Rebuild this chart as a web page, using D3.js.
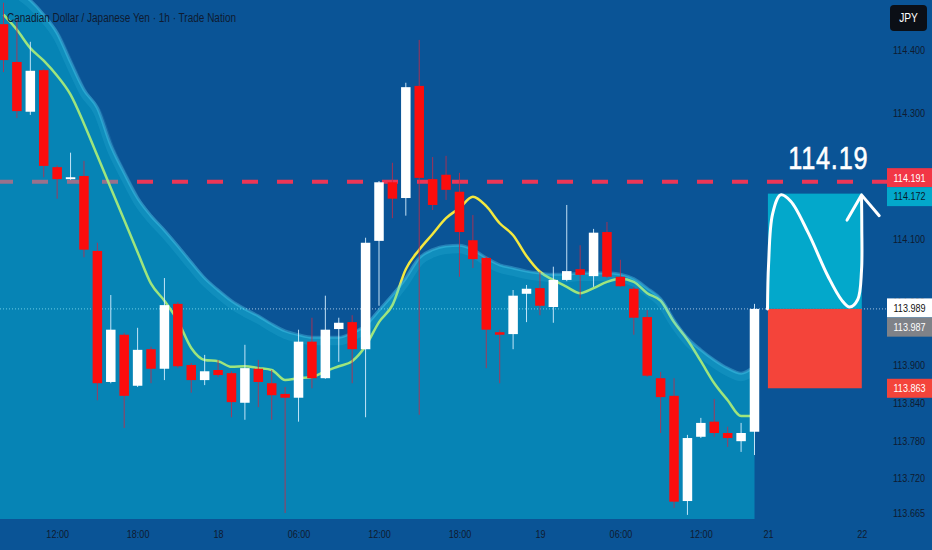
<!DOCTYPE html>
<html>
<head>
<meta charset="utf-8">
<script src="https://cdn.jsdelivr.net/npm/d3@7"></script>
<style>
    html, body { margin: 0; padding: 0; background: #0a5496; }
    svg { display: block; }
</style>
</head>
<body>
<div id="chart"></div>
<script>
// CAD/JPY 1h candles
var opens = [114.441, 114.381, 114.302, 114.368, 114.214, 114.195, 114.200, 114.081, 113.873, 113.948,
    113.867, 113.925, 113.894, 113.997, 113.900, 113.876, 113.892, 113.887, 113.840, 113.894,
    113.871, 113.854, 113.848, 113.937, 113.879, 113.957, 113.968, 113.925, 114.097, 114.190,
    114.165, 114.343, 114.195, 114.202, 114.175, 114.098, 114.070, 113.952, 113.949, 114.013,
    114.022, 113.992, 114.035, 114.052, 114.041, 114.111, 114.040, 114.021, 113.976, 113.879,
    113.851, 113.684, 113.786, 113.810, 113.792, 113.779, 113.794];
var highs = [114.475, 114.448, 114.413, 114.370, 114.217, 114.237, 114.224, 114.094, 114.011, 113.951,
    113.959, 113.929, 114.038, 114.000, 113.903, 113.916, 113.908, 113.890, 113.932, 113.908,
    113.892, 113.865, 113.956, 113.975, 114.010, 113.975, 113.979, 114.102, 114.192, 114.221,
    114.348, 114.416, 114.230, 114.232, 114.205, 114.138, 114.073, 113.956, 114.019, 114.027,
    114.048, 114.056, 114.154, 114.090, 114.116, 114.127, 114.067, 114.024, 113.987, 113.889,
    113.879, 113.789, 113.816, 113.846, 113.802, 113.808, 113.997];
var lows = [114.365, 114.292, 114.297, 114.198, 114.164, 114.194, 114.071, 113.844, 113.871, 113.800,
    113.865, 113.871, 113.876, 113.895, 113.856, 113.868, 113.881, 113.817, 113.813, 113.833,
    113.813, 113.665, 113.810, 113.863, 113.878, 113.905, 113.871, 113.817, 113.994, 114.133,
    114.137, 113.821, 114.146, 114.162, 114.040, 114.054, 113.895, 113.871, 113.925, 113.968,
    113.979, 113.967, 114.033, 114.006, 114.024, 114.038, 114.024, 113.948, 113.881, 113.792,
    113.673, 113.662, 113.784, 113.786, 113.770, 113.762, 113.757];
var closes = [114.384, 114.303, 114.367, 114.216, 114.195, 114.198, 114.083, 113.871, 113.956, 113.851,
    113.924, 113.894, 113.995, 113.898, 113.876, 113.890, 113.884, 113.841, 113.895, 113.873,
    113.852, 113.848, 113.937, 113.879, 113.956, 113.967, 113.925, 114.094, 114.190, 114.164,
    114.341, 114.197, 114.154, 114.178, 114.111, 114.068, 113.956, 113.948, 114.010, 114.021,
    113.994, 114.035, 114.049, 114.043, 114.110, 114.040, 114.025, 113.975, 113.883, 113.849,
    113.683, 113.784, 113.808, 113.792, 113.784, 113.792, 113.989];

// moving average line
var emaValues = [114.456, 114.432, 114.403, 114.383, 114.359, 114.329, 114.283, 114.232, 114.181, 114.130,
    114.079, 114.029, 114.002, 113.970, 113.927, 113.908, 113.906, 113.897, 113.898, 113.895,
    113.892, 113.876, 113.879, 113.881, 113.890, 113.898, 113.906, 113.930, 113.968, 113.995,
    114.052, 114.083, 114.108, 114.133, 114.149, 114.167, 114.152, 114.125, 114.106, 114.073,
    114.048, 114.035, 114.024, 114.014, 114.022, 114.032, 114.037, 114.032, 114.014, 114.002,
    113.968, 113.940, 113.906, 113.871, 113.844, 113.819, 113.819];

// upper edge of the shaded band
var bandValues = [114.511, 114.495, 114.479, 114.456, 114.427, 114.381, 114.337, 114.308, 114.249, 114.205,
    114.165, 114.137, 114.114, 114.089, 114.063, 114.038, 114.019, 114.002, 113.989, 113.978,
    113.965, 113.954, 113.948, 113.944, 113.944, 113.944, 113.951, 113.963, 113.987, 114.011,
    114.038, 114.070, 114.083, 114.089, 114.090, 114.083, 114.070, 114.059, 114.054, 114.049,
    114.046, 114.044, 114.044, 114.046, 114.046, 114.046, 114.044, 114.037, 114.022, 114.005,
    113.971, 113.943, 113.924, 113.908, 113.895, 113.887, 113.898];

// axes
var xTickIndex = [4, 10, 16, 22, 28, 34, 40, 46, 52, 57, 64];
var xTickLabels = ["12:00", "18:00", "18", "06:00", "12:00", "18:00", "19", "06:00", "12:00", "21", "22"];
var yTicks = [114.400, 114.300, 114.200, 114.100, 114.000, 113.900, 113.840, 113.780, 113.720, 113.665];

// price levels
var alertLevel = 114.191;
var lastPrice = 113.989;
var targetPrice = 114.172;
var entryPrice = 113.989;
var stopPrice = 113.863;
var labelValues = [114.191, 114.172, 113.989, 113.987, 113.863];

// projection drawn in the position box: [candle index, price]
var projectionPath = [[56.97, 113.989], [57.05, 114.06], [57.35, 114.14], [57.95, 114.170], [58.7, 114.160],
    [60.0, 114.110], [61.5, 114.040], [62.5, 114.003], [63.1, 113.992], [63.7, 114.004],
    [63.98, 114.05], [64.0, 114.12], [63.98, 114.168]];
var arrowHead = [[62.9, 114.130], [63.98, 114.170], [65.3, 114.137]];
var boxStart = 57, boxEnd = 64;

// dimensions
var svgWidth = 932;
var svgHeight = 550;
var plotBottom = 519;
var axisX = 888;
var font = "'Liberation Sans', Arial, sans-serif";
var textDark = "#0f1b30";

// squeeze text to look like a narrow face
function narrow(sel, k) {
    sel.each(function() {
        var w = this.getComputedTextLength();
        d3.select(this)
            .attr("textLength", w * k)
            .attr("lengthAdjust", "spacingAndGlyphs");
    });
}

var svg = d3.select("#chart")
    .append("svg")
    .attr("width", svgWidth)
    .attr("height", svgHeight);

svg.append("defs").append("clipPath")
    .attr("id", "clip")
    .append("rect")
    .attr("width", axisX)
    .attr("height", plotBottom);

svg.append("rect")
    .attr("width", svgWidth)
    .attr("height", svgHeight)
    .attr("fill", "#0a5496");

var x = d3.scaleLinear().domain([0, 56]).range([3.5, 754.5]);
var y = d3.scaleLinear().domain([113.665, 114.400]).range([513, 50]);

var plot = svg.append("g").attr("clip-path", "url(#clip)");

// alert line (dashed red)
plot.append("line")
    .attr("x1", 0).attr("x2", axisX)
    .attr("y1", y(alertLevel)).attr("y2", y(alertLevel))
    .attr("stroke", "#ec3656")
    .attr("stroke-width", 4)
    .attr("stroke-dasharray", "16,19")
    .attr("stroke-dashoffset", 3);

// last price dotted line
plot.append("line")
    .attr("x1", 0).attr("x2", axisX)
    .attr("y1", y(lastPrice)).attr("y2", y(lastPrice))
    .attr("stroke", "rgba(215,232,250,0.75)")
    .attr("stroke-width", 1)
    .attr("stroke-dasharray", "1,2");

// moving average
var emaLine = d3.line()
    .x((d, i) => x(i))
    .y(d => y(d))
    .curve(d3.curveMonotoneX);

plot.append("path")
    .datum(emaValues)
    .attr("d", emaLine)
    .attr("fill", "none")
    .attr("stroke", "#f3e83f")
    .attr("stroke-width", 2.5);

// shaded band over it
var bandArea = d3.area()
    .x((d, i) => i === 0 ? 0 : x(i))
    .y0(plotBottom)
    .y1(d => y(d))
    .curve(d3.curveMonotoneX);

var bandLine = d3.line()
    .x((d, i) => i === 0 ? 0 : x(i))
    .y(d => y(d))
    .curve(d3.curveMonotoneX);

plot.append("path")
    .datum(bandValues)
    .attr("d", bandArea)
    .attr("fill", "rgba(0,224,241,0.35)");

// soft lighter strip just inside the edge
plot.append("path")
    .datum(bandValues)
    .attr("d", bandLine)
    .attr("transform", "translate(0,4)")
    .attr("fill", "none")
    .attr("stroke", "rgba(90,215,245,0.12)")
    .attr("stroke-width", 8);

plot.append("path")
    .datum(bandValues)
    .attr("d", bandLine)
    .attr("fill", "none")
    .attr("stroke", "rgba(90,215,245,0.35)")
    .attr("stroke-width", 3);

// candles
var candles = opens.map(function(o, i) {
    return { i: i, o: o, h: highs[i], l: lows[i], c: closes[i], up: closes[i] >= o };
});

plot.append("g").selectAll("line")
    .data(candles)
    .enter()
    .append("line")
    .attr("x1", d => x(d.i)).attr("x2", d => x(d.i))
    .attr("y1", d => y(d.h)).attr("y2", d => y(d.l))
    .attr("stroke", d => d.up ? "rgba(215,240,255,0.9)" : "rgba(200,40,70,0.8)")
    .attr("stroke-width", 1);

var bodyWidth = 9.5;
plot.append("g").selectAll("rect")
    .data(candles)
    .enter()
    .append("rect")
    .attr("x", d => x(d.i) - bodyWidth / 2)
    .attr("width", bodyWidth)
    .attr("y", d => y(Math.max(d.o, d.c)))
    .attr("height", d => Math.max(1.5, Math.abs(y(d.o) - y(d.c))))
    .attr("fill", d => d.up ? "#ffffff" : "#fb0d0d");

// long position box
plot.append("rect")
    .attr("x", x(boxStart))
    .attr("width", x(boxEnd) - x(boxStart))
    .attr("y", y(targetPrice))
    .attr("height", y(entryPrice) - y(targetPrice))
    .attr("fill", "#03a8cb");

plot.append("rect")
    .attr("x", x(boxStart))
    .attr("width", x(boxEnd) - x(boxStart))
    .attr("y", y(entryPrice))
    .attr("height", y(stopPrice) - y(entryPrice))
    .attr("fill", "#f4443a");

var projLine = d3.line()
    .x(d => x(d[0]))
    .y(d => y(d[1]));

plot.append("path")
    .datum(projectionPath)
    .attr("d", projLine.curve(d3.curveCatmullRom.alpha(0.5)))
    .attr("fill", "none")
    .attr("stroke", "#ffffff")
    .attr("stroke-width", 3)
    .attr("stroke-linecap", "round");

plot.append("path")
    .datum(arrowHead)
    .attr("d", d3.line().x(d => x(d[0])).y(d => y(d[1])))
    .attr("fill", "none")
    .attr("stroke", "#ffffff")
    .attr("stroke-width", 3)
    .attr("stroke-linecap", "round")
    .attr("stroke-linejoin", "round");

// big target text
svg.append("text")
    .attr("x", x(61.5))
    .attr("y", y(alertLevel) - 13)
    .attr("text-anchor", "middle")
    .attr("font-family", font)
    .attr("font-size", 32)
    .attr("letter-spacing", 1)
    .attr("fill", "#ffffff")
    .attr("stroke", "#ffffff")
    .attr("stroke-width", 0.6)
    .text(d3.format(".2f")(alertLevel))
    .call(narrow, 0.79);

// right price axis
var rightAxis = d3.axisRight(y)
    .tickValues(yTicks)
    .tickFormat(d3.format(".3f"))
    .tickSize(0)
    .tickPadding(5);

var yAxisG = svg.append("g")
    .attr("transform", `translate(${axisX}, 0)`)
    .call(rightAxis);
yAxisG.select(".domain").remove();
yAxisG.selectAll("text")
    .attr("font-family", font)
    .attr("font-size", 11)
    .attr("fill", textDark)
    .call(narrow, 0.82);

// bottom time axis
var bottomAxis = d3.axisBottom(x)
    .tickValues(xTickIndex)
    .tickFormat((d, i) => xTickLabels[i])
    .tickSize(0)
    .tickPadding(11);

var xAxisG = svg.append("g")
    .attr("transform", `translate(0, ${plotBottom})`)
    .call(bottomAxis);
xAxisG.select(".domain").remove();
xAxisG.selectAll("text")
    .attr("font-family", font)
    .attr("font-size", 11)
    .attr("fill", textDark)
    .call(narrow, 0.82);

// price labels on the axis
var labelStyles = [
    { bg: "#f23645", fg: "#ffffff", shift: -4 },
    { bg: "#03a8cb", fg: "#0a1a2a", shift: 3 },
    { bg: "#ffffff", fg: "#111111", shift: -1 },
    { bg: "#7f8288", fg: "#ffffff", shift: 17 },
    { bg: "#f4443a", fg: "#ffffff", shift: 0 }
];

var labelG = svg.append("g").selectAll("g")
    .data(labelValues)
    .enter()
    .append("g")
    .attr("transform", (d, i) => `translate(${axisX - 1}, ${y(d) + labelStyles[i].shift})`);

labelG.append("rect")
    .attr("x", 0)
    .attr("y", -9.5)
    .attr("width", svgWidth - axisX + 1)
    .attr("height", 19)
    .attr("fill", (d, i) => labelStyles[i].bg);

labelG.append("text")
    .attr("x", (svgWidth - axisX + 1) / 2)
    .attr("dy", "0.35em")
    .attr("text-anchor", "middle")
    .attr("font-family", font)
    .attr("font-size", 11)
    .attr("fill", (d, i) => labelStyles[i].fg)
    .text(d => d3.format(".3f")(d))
    .call(narrow, 0.82);

// currency badge
svg.append("rect")
    .attr("x", 890).attr("y", 5)
    .attr("width", 37).attr("height", 26)
    .attr("rx", 4)
    .attr("fill", "#0b0f16");

svg.append("text")
    .attr("x", 908.5).attr("y", 18)
    .attr("dy", "0.35em")
    .attr("text-anchor", "middle")
    .attr("font-family", font)
    .attr("font-size", 12)
    .attr("fill", "#ffffff")
    .text("JPY")
    .call(narrow, 0.85);

// title
svg.append("text")
    .attr("x", 7).attr("y", 22)
    .attr("font-family", font)
    .attr("font-size", 12.5)
    .attr("fill", textDark)
    .text("Canadian Dollar / Japanese Yen · 1h · Trade Nation")
    .call(narrow, 0.8);
</script>
</body>
</html>
